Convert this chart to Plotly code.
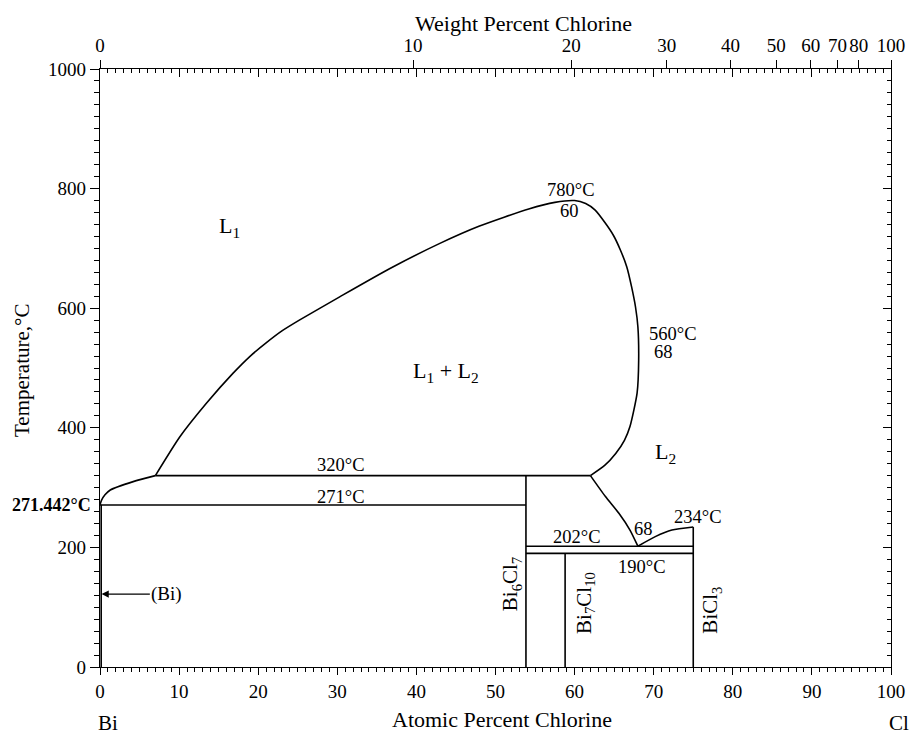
import plotly.graph_objects as go

# ---------------- data (atomic % Cl, temperature °C) ----------------
dome_x = [7.0, 10.1, 13.45, 16.8, 19.0, 21.0, 23.0, 25.2, 30.3, 36.6, 42.9, 47.9, 54.2, 57.5, 60.0,
          61.4, 62.6, 63.9, 64.9, 65.8, 66.6, 67.2, 67.7, 68.0, 68.1, 67.9, 67.0, 66.3, 65.2, 63.8, 62.0]
dome_y = [320, 385, 441, 491, 520, 542, 562, 580, 619, 666, 708, 737, 766, 777, 780,
          775, 764, 742, 722, 697, 669, 636, 602, 569, 513, 458, 402, 379, 357, 337, 320]

bi_liq_x = [0.0, 0.2, 0.63, 1.3, 4.2, 7.0]
bi_liq_y = [271.442, 279, 288, 296, 310, 320]

l2_liq_x = [62.0, 63.9, 65.6, 67.0, 68.0]
l2_liq_y = [320, 285, 257, 229, 202]

bicl3_liq_x = [68.0, 70.2, 72.3, 75.0]
bicl3_liq_y = [202, 218, 229, 234]

# horizontal invariant lines: temperature, start and end composition
iso_T = [320, 271, 202, 190]
iso_x0 = [7.0, 0.0, 53.85, 53.85]
iso_x1 = [62.0, 53.85, 75.0, 75.0]

# compounds / vertical lines: composition and top temperature
comp_x = [53.85, 58.8, 75.0, 0.15]
comp_top = [320, 190, 234, 271.442]

# axis ticks
at_ticks = [0, 10, 20, 30, 40, 50, 60, 70, 80, 90, 100]
T_ticks = [0, 200, 400, 600, 800, 1000]
wt_ticks = [0, 10, 20, 30, 40, 50, 60, 70, 80, 100]
M_BI, M_CL = 208.98, 35.453


def wt_to_at(w):
    if w >= 100:
        return 100.0
    a = w / M_CL
    b = (100 - w) / M_BI
    return 100 * a / (a + b)


wt_pos = [wt_to_at(w) for w in wt_ticks]

FONT = "Liberation Serif"
LW = 1.6
fig = go.Figure()


def add_line(xs, ys, shape="linear"):
    fig.add_trace(go.Scatter(x=xs, y=ys, mode="lines",
                             line=dict(color="black", width=LW, shape=shape, smoothing=0.6),
                             showlegend=False, hoverinfo="skip"))


add_line(dome_x, dome_y, "spline")
add_line(bi_liq_x, bi_liq_y, "spline")
add_line(l2_liq_x, l2_liq_y, "spline")
add_line(bicl3_liq_x, bicl3_liq_y, "spline")
for T, a, b in zip(iso_T, iso_x0, iso_x1):
    add_line([a, b], [T, T])
for cx, top in zip(comp_x, comp_top):
    add_line([cx, cx], [0, top])

# invisible traces so the extra axes are drawn
fig.add_trace(go.Scatter(x=[0], y=[0], xaxis="x2", yaxis="y", mode="markers",
                         marker=dict(opacity=0), showlegend=False, hoverinfo="skip"))
fig.add_trace(go.Scatter(x=[0], y=[0], xaxis="x3", yaxis="y", mode="markers",
                         marker=dict(opacity=0), showlegend=False, hoverinfo="skip"))
fig.add_trace(go.Scatter(x=[0], y=[0], xaxis="x", yaxis="y2", mode="markers",
                         marker=dict(opacity=0), showlegend=False, hoverinfo="skip"))

tickfont = dict(family=FONT, size=19, color="black")
axis_common = dict(showgrid=False, zeroline=False, showline=True, linecolor="black",
                   linewidth=1.3, tickcolor="black", tickwidth=1.2, range=[0, 100])

fig.update_layout(
    width=917, height=734,
    margin=dict(l=100, r=24, t=69, b=67),
    plot_bgcolor="white", paper_bgcolor="white",
    font=dict(family=FONT, size=19, color="black"),
    xaxis=dict(**axis_common, side="bottom", ticks="outside", ticklen=7,
               tickvals=at_ticks, tickfont=tickfont,
               minor=dict(dtick=1, ticks="outside", ticklen=4, tickcolor="black", tickwidth=1)),
    xaxis2=dict(**axis_common, overlaying="x", side="top", ticks="inside", ticklen=8,
                tickvals=at_ticks, showticklabels=False,
                minor=dict(dtick=1, ticks="inside", ticklen=4, tickcolor="black", tickwidth=1)),
    xaxis3=dict(**axis_common, overlaying="x", side="top", ticks="outside", ticklen=8,
                tickvals=wt_pos, ticktext=[str(w) for w in wt_ticks], tickfont=tickfont),
    yaxis=dict(showgrid=False, zeroline=False, showline=True, linecolor="black",
               linewidth=1.3, tickcolor="black", tickwidth=1.2, range=[0, 1000],
               ticks="outside", ticklen=9, tickvals=T_ticks, tickfont=tickfont,
               minor=dict(dtick=20, ticks="outside", ticklen=5, tickcolor="black", tickwidth=1)),
    yaxis2=dict(showgrid=False, zeroline=False, showline=True, linecolor="black",
                linewidth=1.3, tickcolor="black", tickwidth=1.2, range=[0, 1000],
                overlaying="y", side="right", ticks="inside", ticklen=8, tickvals=T_ticks,
                showticklabels=False,
                minor=dict(dtick=20, ticks="inside", ticklen=4, tickcolor="black", tickwidth=1)),
)

# ---------------- labels ----------------
ann = []


def lab(x, y, text, size=21, angle=0, **kw):
    d = dict(x=x, y=y, xref="x", yref="y", text=text, showarrow=False,
             font=dict(family=FONT, size=size, color="black"), textangle=angle)
    d.update(kw)
    ann.append(d)


lab(16.4, 736, "L<sub>1</sub>", 22)
lab(43.8, 493, "L<sub>1</sub> + L<sub>2</sub>", 22)
lab(59.6, 797, "780°C", 18.5)
lab(59.3, 763, "60", 18.5)
lab(72.5, 557, "560°C", 18.5)
lab(71.2, 526, "68", 18.5)
lab(71.5, 358, "L<sub>2</sub>", 22)
lab(30.5, 338, "320°C", 18.5)
lab(30.5, 285, "271°C", 18.5)
lab(60.3, 218, "202°C", 18.5)
lab(68.7, 230, "68", 18.5)
lab(75.6, 251, "234°C", 18.5)
lab(68.5, 167, "190°C", 18.5)
lab(52.0, 139, "Bi<sub>6</sub>Cl<sub>7</sub>", 21, -90)
lab(61.3, 107, "Bi<sub>7</sub>Cl<sub>10</sub>", 21, -90)
lab(77.3, 95, "BiCl<sub>3</sub>", 21, -90)

# (Bi) arrow
ann.append(dict(x=0.2, y=122, xref="x", yref="y", ax=8.45, ay=122, axref="x", ayref="y",
                text="(Bi)", showarrow=True, arrowhead=2, arrowsize=1.2, arrowwidth=1.2,
                arrowcolor="black", standoff=0,
                font=dict(family=FONT, size=19, color="black")))

# bold melting point label
ann.append(dict(x=0, y=271.442, xref="x", yref="y", text="<b>271.442°C</b>", showarrow=False,
                xanchor="right", xshift=-7, font=dict(family=FONT, size=18, color="black")))

# element labels and axis titles
ann.append(dict(x=0, y=0, xref="x", yref="paper", text="Bi", showarrow=False,
                yanchor="middle", xshift=8, yshift=-56, font=dict(family=FONT, size=21, color="black")))
ann.append(dict(x=100, y=0, xref="x", yref="paper", text="Cl", showarrow=False,
                yanchor="middle", xshift=8, yshift=-56, font=dict(family=FONT, size=21, color="black")))
ann.append(dict(x=50.8, y=0, xref="x", yref="paper", text="Atomic Percent Chlorine", showarrow=False,
                yanchor="middle", yshift=-52, font=dict(family=FONT, size=22, color="black")))
ann.append(dict(x=53.5, y=1, xref="x", yref="paper", text="Weight Percent Chlorine", showarrow=False,
                yanchor="middle", yshift=46, font=dict(family=FONT, size=22, color="black")))
ann.append(dict(x=0, y=495, xref="paper", yref="y", text="Temperature,°C", showarrow=False,
                textangle=-90, xanchor="center", xshift=-78,
                font=dict(family=FONT, size=21, color="black")))

fig.update_layout(annotations=ann)
fig.write_html("out.html", config={"displayModeBar": False},
               post_script="document.body.style.margin='0';document.body.style.overflow='hidden';")
